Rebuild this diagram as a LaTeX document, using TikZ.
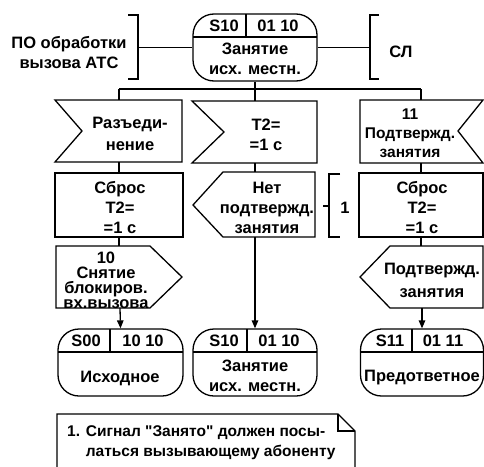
\documentclass[tikz,border=0pt]{standalone}
\usepackage{fontspec}
\setmainfont{Liberation Sans}[Ligatures=TeXOff]
\usetikzlibrary{arrows.meta}
\newcommand\fs{\fontsize{16.5}{20}\selectfont\bfseries}
\begin{document}
\begin{tikzpicture}[x=1pt,y=-1pt,
  every node/.style={font=\fs, align=center, inner sep=0pt},
  ln/.style={line width=1.3pt},
  arr/.style={ln, -{Triangle[length=8pt,width=6.5pt]}},
  taskbox/.style={draw, ln, minimum height=64pt},
  statebox/.style={draw, ln, rounded corners=21pt, minimum height=67pt},
]
\useasboundingbox (0,0) rectangle (484,466);

% ---------- top state ----------
\node[statebox, minimum width=124pt] (st1) at (255,47.5) {};
\draw[ln] (193,37) -- (317,37);
\draw[ln] (246,14) -- (246,37);
\node (st1a) at (224,26) {S10};
\node (st1b) at (278,26) {01 10};
\node (st1c) at (255,59) {Занятие\\исх. местн.};

% left / right environment brackets
\node (po) at (69,53) {ПО обработки\\вызова АТС};
\draw[ln] (128,15) -- (138,15) -- (138,79) -- (128,79);
\coordinate (brL) at (138,47.5);
\draw[ln] (brL) -- (st1.west);
\draw[ln] (379,15) -- (370,15) -- (370,79) -- (379,79);
\coordinate (brR) at (370,47.5);
\draw[ln] (st1.east) -- (brR);
\node (sl) at (401,52) {СЛ};

% ---------- bus ----------
\coordinate (bus) at (255,89);
\coordinate (busL) at (119,89);
\coordinate (busR) at (421,89);
\coordinate (in1n) at (119,100);
\coordinate (in2n) at (255,101);
\coordinate (in3n) at (421,100);
\draw[ln] (st1.south) -- (bus);
\draw[ln] (busL) -- (busR);
\draw[ln] (busL) -- (in1n);
\draw[ln] (bus) -- (in2n);
\draw[ln] (busR) -- (in3n);

% ---------- left column ----------
\draw[ln] (55,100) -- (182,100) -- (182,162) -- (55,162) -- (82,131) -- cycle;
\coordinate (in1s) at (119,162);
\node[font=\fontsize{16.5}{22}\selectfont\bfseries] (in1t) at (130,134) {Разъеди-\\нение};
\node[taskbox, minimum width=128pt] (t1) at (119,205) {};
\node (t1t) at (120,208) {Сброс\\Т2=\\=1 с};
\draw[ln] (in1s) -- (t1.north);
\draw[ln] (56,246) -- (150,246) -- (182,277) -- (150,308) -- (56,308) -- cycle;
\coordinate (out1n) at (119,246);
\coordinate (out1s) at (120,308);
\draw[ln] (t1.south) -- (out1n);
\node[font=\fontsize{16.5}{15}\selectfont\bfseries] (out1t) at (106,280) {10\\Снятие\\блокиров.\\вх.вызова};
\node[statebox, minimum width=125pt] (st2) at (120.5,362.5) {};
\draw[ln] (58,352) -- (183,352);
\draw[ln] (110,329) -- (110,352);
\node (st2a) at (86,341) {S00};
\node (st2b) at (143,341) {10 10};
\node (st2c) at (120,378) {Исходное};
\draw[arr] (out1s) -- (st2.north);

% ---------- middle column ----------
\draw[ln] (192,101) -- (317,101) -- (317,163) -- (192,163) -- (224,132) -- cycle;
\coordinate (in2s) at (255,163);
\node (in2t) at (266,135) {Т2=\\=1 с};
\draw[ln] (223,172) -- (315,172) -- (315,237) -- (223,237) -- (193,205) -- cycle;
\coordinate (out2n) at (255,172);
\coordinate (out2s) at (255,237);
\draw[ln] (in2s) -- (out2n);
\node (out2t) at (267,208) {Нет\\подтвержд.\\занятия};
\node[statebox, minimum width=124pt] (st3) at (255,362.5) {};
\draw[ln] (193,352) -- (317,352);
\draw[ln] (247,329) -- (247,352);
\node (st3a) at (224,341) {S10};
\node (st3b) at (279,341) {01 10};
\node (st3c) at (255,376) {Занятие\\исх. местн.};
\draw[arr] (out2s) -- (st3.north);

% comment bracket
\draw[ln] (340,174) -- (329,174) -- (329,237) -- (340,237);
\coordinate (cm) at (329,206);
\coordinate (cmd) at (323,206);
\draw[ln] (cmd) -- (cm);
\node (cm1) at (345,208) {1};

% ---------- right column ----------
\draw[ln] (360,100) -- (483,100) -- (458,131) -- (483,163) -- (360,163) -- cycle;
\coordinate (in3s) at (421,163);
\node[font=\fontsize{15.5}{19}\selectfont\bfseries] (in3t) at (410,133) {11\\Подтвержд.\\занятия};
\node[taskbox, minimum width=124pt] (t3) at (421,205) {};
\node (t3t) at (422,208) {Сброс\\Т2=\\=1 с};
\draw[ln] (in3s) -- (t3.north);
\draw[ln] (390,246) -- (483,246) -- (483,308) -- (390,308) -- (360,277) -- cycle;
\coordinate (out3n) at (421,246);
\coordinate (out3s) at (422,308);
\draw[ln] (t3.south) -- (out3n);
\node[font=\fontsize{16.5}{23}\selectfont\bfseries] (out3t) at (432,280) {Подтвержд.\\занятия};
\node[statebox, minimum width=123pt] (st4) at (422,362.5) {};
\draw[ln] (360.5,352) -- (483.5,352);
\draw[ln] (412,329) -- (412,352);
\node (st4a) at (390,341) {S11};
\node (st4b) at (443,341) {01 11};
\node (st4c) at (422,378) {Предответное};
\draw[arr] (out3s) -- (st4.north);

% ---------- note ----------
\draw[ln] (57,475) -- (57,414) -- (338,414) -- (355,431) -- (355,475);
\draw[ln] (338,414) -- (338,431) -- (355,431);
\node[align=left, anchor=north west, font=\fontsize{15.5}{20}\selectfont\bfseries] (note) at (67,425) {1. Сигнал "Занято" должен посы-\\\phantom{1. }латься вызывающему абоненту};
\end{tikzpicture}
\end{document}
